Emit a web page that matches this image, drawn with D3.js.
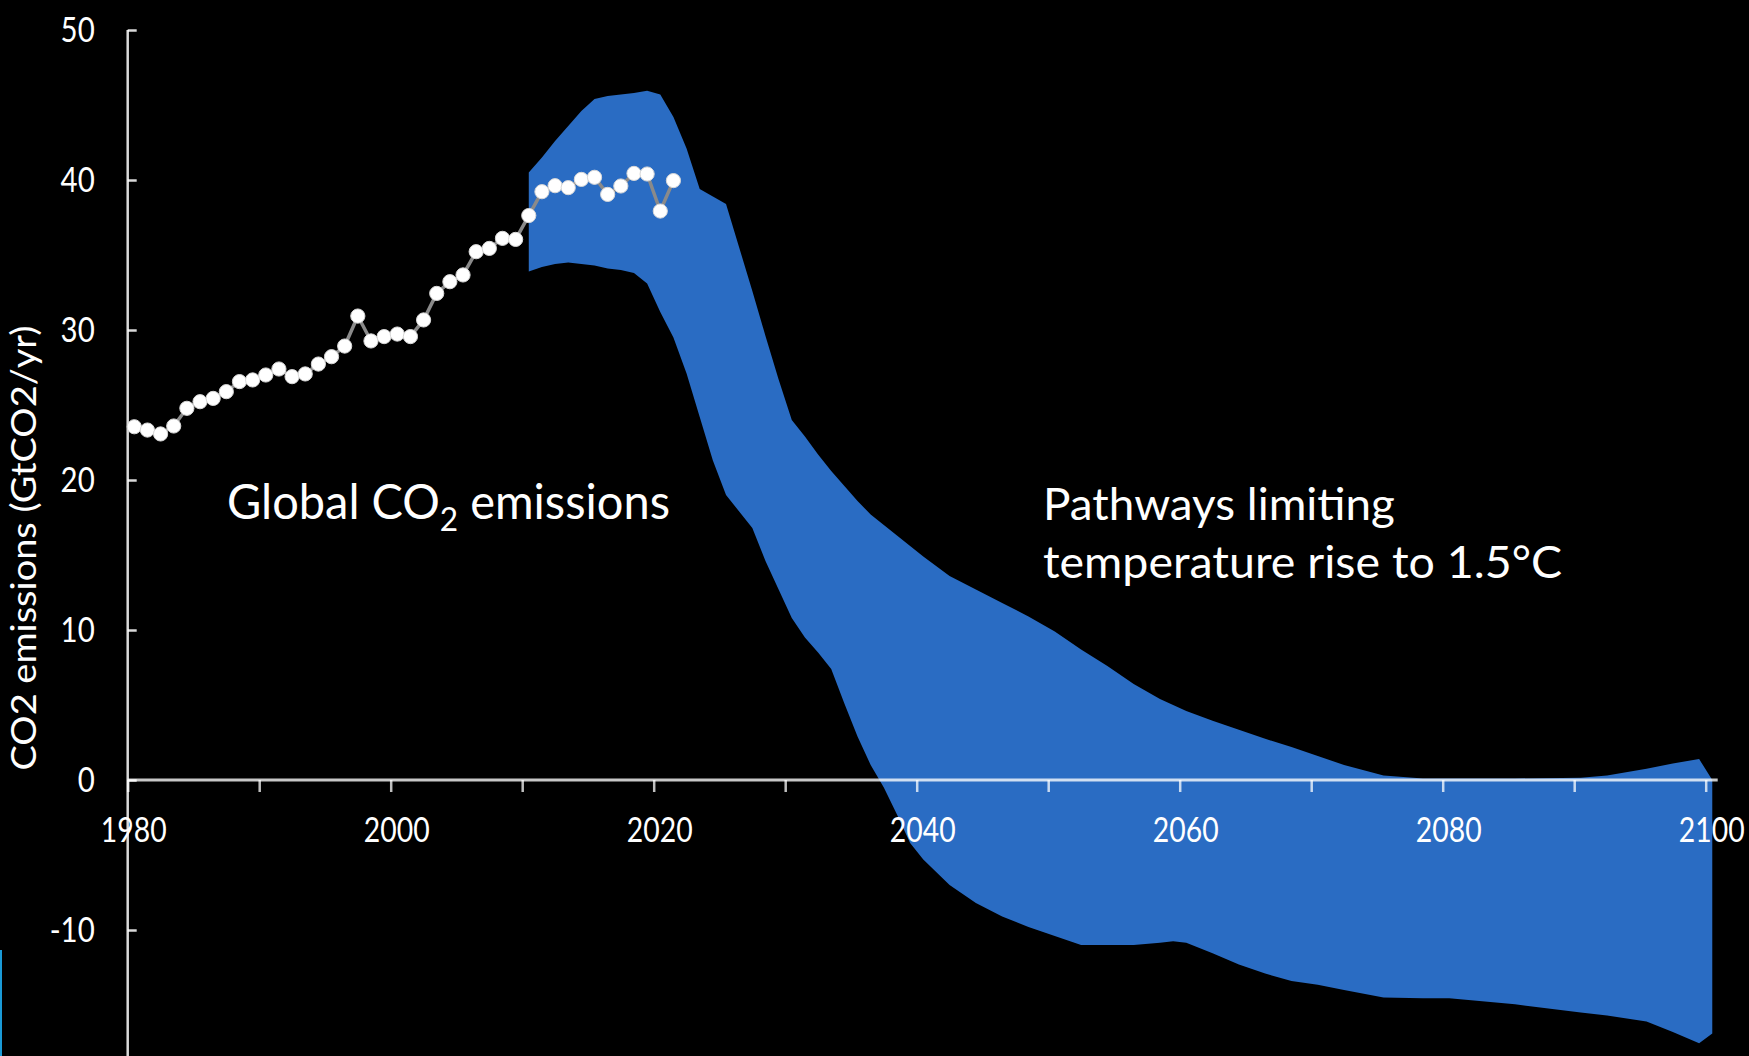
<!DOCTYPE html>
<html>
<head>
<meta charset="utf-8">
<script src="https://cdn.jsdelivr.net/npm/d3@7"></script>
<style>
  html, body { margin: 0; padding: 0; background: #000; }
  svg { display: block; }
  text { font-family: Lato, "Liberation Sans", Arial, sans-serif; fill: #fff; }
</style>
</head>
<body>
<svg id="chart" width="1749" height="1056"></svg>
<script>
// ---------------- DATA ----------------
const histYears = d3.range(1980, 2022);
const histValues = [
  23.55, 23.33, 23.07, 23.6, 24.78, 25.22, 25.44, 25.89, 26.56, 26.67,
  27.0, 27.4, 26.89, 27.07, 27.73, 28.22, 28.93, 30.93, 29.27, 29.56,
  29.73, 29.56, 30.67, 32.44, 33.22, 33.67, 35.22, 35.44, 36.11, 36.04,
  37.63, 39.22, 39.62, 39.49, 40.04, 40.18, 39.04, 39.6, 40.44, 40.4,
  37.93, 39.96
];

const bandYears = [
  2010, 2011, 2012, 2013, 2014, 2015, 2016, 2017, 2018, 2019,
  2020, 2021, 2022, 2023, 2024, 2025, 2026, 2027, 2028, 2029,
  2030, 2031, 2032, 2033, 2034, 2035, 2036, 2037, 2038, 2039,
  2040, 2042, 2044, 2046, 2048, 2050, 2052, 2054, 2056, 2058,
  2059, 2060, 2062, 2064, 2066, 2068, 2070, 2072, 2075, 2078,
  2080, 2085, 2090, 2092, 2095, 2097, 2099, 2100
];
const bandUpper = [
  40.5, 41.5, 42.6, 43.6, 44.6, 45.4, 45.6, 45.7, 45.8, 45.95,
  45.7, 44.2, 42.1, 39.4, 38.9, 38.4, 35.5, 32.6, 29.6, 26.7,
  24.0, 22.9, 21.7, 20.6, 19.6, 18.6, 17.7, 17.0, 16.3, 15.6,
  14.9, 13.6, 12.7, 11.8, 10.9, 9.9, 8.7, 7.6, 6.4, 5.4,
  5.0, 4.6, 3.95, 3.35, 2.75, 2.2, 1.6, 1.0, 0.3, 0.1,
  0.1, 0.1, 0.15, 0.3, 0.75, 1.1, 1.4, 0.0
];
const bandLower = [
  33.9, 34.2, 34.4, 34.5, 34.4, 34.3, 34.1, 34.0, 33.8, 33.1,
  31.2, 29.5, 27.1, 24.2, 21.3, 19.0, 17.9, 16.8, 14.6, 12.7,
  10.8, 9.5, 8.5, 7.4, 5.1, 2.9, 1.0, -0.5, -2.3, -4.2,
  -5.3, -7.0, -8.2, -9.1, -9.8, -10.4, -11.0, -11.0, -11.0, -10.85,
  -10.75, -10.85, -11.55, -12.3, -12.9, -13.4, -13.65, -14.0, -14.5, -14.55,
  -14.55, -14.95, -15.5, -15.7, -16.1, -16.8, -17.55, -16.9
];

const yTickValues = [50, 40, 30, 20, 10, 0, -10];
const xTickValues = d3.range(1980, 2101, 10);
const xLabelValues = [1980, 2000, 2020, 2040, 2060, 2080, 2100];

const yAxisTitle = "CO2 emissions (GtCO2/yr)";
const histLabel = ["Global CO", "2", " emissions"];
const bandLabel = ["Pathways limiting", "temperature rise to 1.5°C"];

// ---------------- LAYOUT ----------------
const W = 1749, H = 1056;
const svg = d3.select("#chart");
svg.append("rect").attr("width", W).attr("height", H).attr("fill", "#000");

const x = d3.scaleLinear().domain([1980, 2100]).range([127.7, 1705.7]);
const y = d3.scaleLinear().domain([0, 50]).range([780, 30]);
const mid = yr => x(yr + 0.5);   // annual values plotted at mid-year
const fmt = d => String(d).replace("\u2212", "-");
const condense = k => function () {
  const w = this.getComputedTextLength();
  d3.select(this).attr("textLength", w * k).attr("lengthAdjust", "spacingAndGlyphs");
};

const BLUE = "#2a6cc3";

// band
const band = bandYears.map((yr, i) => ({yr, hi: bandUpper[i], lo: bandLower[i]}));
svg.append("path")
  .datum(band)
  .attr("fill", BLUE)
  .attr("d", d3.area().x(d => mid(d.yr)).y0(d => y(d.lo)).y1(d => y(d.hi)));

// axes
const yAxis = d3.axisLeft(y).tickValues(yTickValues).tickSizeInner(-9).tickSizeOuter(0).tickPadding(33)
  .tickFormat(fmt);
const gy = svg.append("g").attr("transform", `translate(${x(1980)},0)`).call(yAxis);
gy.select(".domain").remove();
gy.selectAll(".tick line").attr("stroke", "#fff").attr("stroke-width", 2.5).attr("stroke-opacity", 0.85);
gy.selectAll(".tick text").attr("font-size", 35).attr("fill", "#fff").each(condense(0.84));
svg.append("line")
  .attr("x1", x(1980)).attr("x2", x(1980))
  .attr("y1", y(50)).attr("y2", H)
  .attr("stroke", "#fff").attr("stroke-width", 2.5).attr("stroke-opacity", 0.85);

const xAxis = d3.axisBottom(x).tickValues(xTickValues).tickSizeInner(12).tickSizeOuter(0).tickFormat("");
const gx = svg.append("g").attr("transform", `translate(0,${y(0)})`).call(xAxis);
gx.select(".domain").remove();
gx.selectAll(".tick line").attr("stroke", "#fff").attr("stroke-width", 2.5).attr("stroke-opacity", 0.75);
svg.append("line")
  .attr("x1", x(1980)).attr("x2", x(2100) + 12)
  .attr("y1", y(0)).attr("y2", y(0))
  .attr("stroke", "#fff").attr("stroke-width", 3).attr("stroke-opacity", 0.78);

const xLab = d3.scaleLinear().domain([1980, 2100]).range([x(1980) + 5.5, x(2100) + 5.5]);
const gxl = svg.append("g").attr("transform", `translate(0,${y(0)})`)
  .call(d3.axisBottom(xLab).tickValues(xLabelValues).tickSize(0).tickPadding(37).tickFormat(fmt));
gxl.select(".domain").remove();
gxl.selectAll(".tick text").attr("font-size", 35).attr("fill", "#fff").attr("transform", "scale(0.81,1)");

// historical line + dots
svg.append("path")
  .datum(histValues)
  .attr("fill", "none")
  .attr("stroke", "#8a8a8a")
  .attr("stroke-width", 3.5)
  .attr("d", d3.line().x((d, i) => mid(histYears[i])).y(d => y(d)));
svg.selectAll("circle.dot")
  .data(histValues)
  .join("circle")
  .attr("class", "dot")
  .attr("cx", (d, i) => mid(histYears[i]))
  .attr("cy", d => y(d))
  .attr("r", 7.1)
  .attr("fill", "#fff")
  .attr("stroke", "#d8d8d8")
  .attr("stroke-width", 1);

// helper to fit text width
function fit(t, left, width) {
  const b = t.node().getBBox();
  const s = width / b.width;
  t.attr("transform", `translate(${left},0) scale(${s},1) translate(${-b.x},0)`);
}

// y axis title
svg.append("text")
  .attr("transform", `translate(36,548) rotate(-90)`)
  .attr("text-anchor", "middle")
  .attr("font-size", 35)
  .attr("textLength", 445).attr("lengthAdjust", "spacingAndGlyphs")
  .text(yAxisTitle);

// annotations
const g1 = svg.append("text").attr("y", 519).attr("font-size", 49);
g1.append("tspan").text(histLabel[0]);
g1.append("tspan").attr("font-size", 33).attr("dy", 12).text(histLabel[1]);
g1.append("tspan").attr("dy", -12).text(histLabel[2]);
fit(g1, 227, 443);

const p1 = svg.append("text").attr("y", 520).attr("font-size", 45).text(bandLabel[0]);
fit(p1, 1043, 352);
const p2 = svg.append("text").attr("y", 578).attr("font-size", 45).text(bandLabel[1]);
fit(p2, 1043, 519);

// screen-edge artifact
svg.append("rect").attr("x", 0).attr("y", 950).attr("width", 2).attr("height", H - 950).attr("fill", "#1a9ad6");
</script>
</body>
</html>
